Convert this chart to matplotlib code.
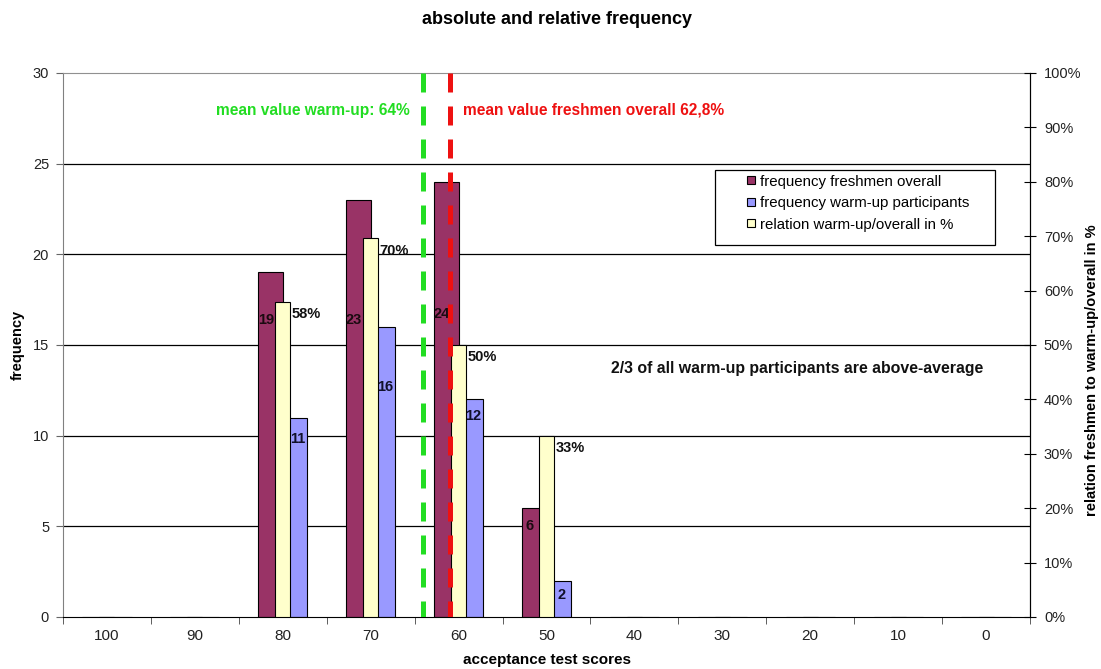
import numpy as np
import matplotlib
matplotlib.use("Agg")
import matplotlib.pyplot as plt
from matplotlib.lines import Line2D
from matplotlib.patches import Rectangle
from matplotlib.ticker import FuncFormatter

plt.rcParams['font.family'] = ['Liberation Sans', 'DejaVu Sans']

# data
scores = ['100', '90', '80', '70', '60', '50', '40', '30', '20', '10', '0']
freshmen = [0, 0, 19, 23, 24, 6, 0, 0, 0, 0, 0]
warmup = [0, 0, 11, 16, 12, 2, 0, 0, 0, 0, 0]
relation = [0, 0, 0.579, 0.696, 0.50, 0.333, 0, 0, 0, 0, 0]
mean_warmup = 64
mean_overall = 62.8

# where the labels sit (layout only)
freshmen_label_y = [0, 0, 16.4, 16.4, 16.7, 5.0, 0, 0, 0, 0, 0]
warmup_label_y = [0, 0, 9.8, 12.7, 11.1, 1.2, 0, 0, 0, 0, 0]
mean_line_x = [3.6, 3.9]   # positions of the dashed lines as drawn in the original

MAROON = '#993366'
BLUE = '#9999ff'
YELLOW = '#ffffcc'
GREEN = '#22dd22'
RED = '#ee1111'

fig = plt.figure(figsize=(11.01, 6.69), dpi=100)
ax = fig.add_axes([63 / 1101, 1 - 617 / 669, 967 / 1101, 544 / 669])
ax2 = ax.twinx()

x = np.arange(len(scores))
w = 0.28
ax.bar(x - w / 2, freshmen, width=w, color=MAROON, edgecolor='black', linewidth=0.8, zorder=2)
ax.bar(x + w / 2, warmup, width=w, color=BLUE, edgecolor='black', linewidth=0.8, zorder=2)
ax2.bar(x, relation, width=0.17, color=YELLOW, edgecolor='black', linewidth=0.8, zorder=2)

ax.set_xlim(-0.5, len(scores) - 0.5)
ax.set_ylim(0, 30)
ax2.set_ylim(0, 1)

# grid
ax.set_axisbelow(True)
for yv in range(5, 30, 5):
    ax.axhline(yv, color='black', linewidth=0.9, zorder=0)

# spines
ax.spines['left'].set_color('#808080')
ax.spines['top'].set_color('#909090')
ax.spines['bottom'].set_color('black')
ax2.spines['right'].set_color('black')
ax2.spines['left'].set_visible(False)
ax2.spines['top'].set_visible(False)
ax2.spines['bottom'].set_visible(False)

# ticks
ax.set_xticks(x)
ax.set_xticklabels(scores)
ax.set_xticks(np.arange(-0.5, len(scores), 1), minor=True)
ax.tick_params(axis='x', which='major', length=0, pad=9, labelsize=11, labelcolor='#222222')
ax.tick_params(axis='x', which='minor', length=5, direction='out', color='#444444')
ax.set_yticks(range(0, 31, 5))
ax.tick_params(axis='y', length=5, direction='out', pad=5, labelsize=10.5, labelcolor='#222222', color='#666666')
ax2.set_yticks(np.arange(0, 1.01, 0.1))
ax2.yaxis.set_major_formatter(FuncFormatter(lambda v, p: f'{v * 100:.0f}%'))
ax2.tick_params(axis='y', length=8, direction='inout', pad=6, labelsize=10.5, labelcolor='#222222')

# value labels
for i in x:
    if freshmen[i]:
        ax2.text(i - 0.19, freshmen_label_y[i] / 30, str(freshmen[i]), ha='center', va='center',
                 fontsize=10.5, fontweight='bold', color='#1a0a10', zorder=3)
    if warmup[i]:
        ax2.text(i + 0.17, warmup_label_y[i] / 30, str(warmup[i]), ha='center', va='center',
                 fontsize=10.5, fontweight='bold', color='#10102a', zorder=3)
    if relation[i]:
        ax2.text(i + 0.1, relation[i] - 0.01, f'{relation[i] * 100:.0f}%', ha='left', va='top',
                 fontsize=10.5, fontweight='bold', color='#111111', zorder=3)

# mean lines
for xm, col in zip(mean_line_x, [GREEN, RED]):
    ax2.plot([xm, xm], [1, 0], color=col, linewidth=3.6, linestyle=(0, (3.8, 2.8)), zorder=4,
             solid_capstyle='butt', dash_capstyle='butt')

ax.text(mean_line_x[0] - 0.15, 27.95, f'mean value warm-up: {mean_warmup}%', ha='right', va='center',
        fontsize=11.2, fontweight='bold', color=GREEN)
ax.text(mean_line_x[1] + 0.15, 27.95, f'mean value freshmen overall {str(mean_overall).replace(".", ",")}%',
        ha='left', va='center', fontsize=11.2, fontweight='bold', color=RED)
ax.text(5.73, 13.73, '2/3 of all warm-up participants are above-average', ha='left', va='center',
        fontsize=11.4, fontweight='bold', color='#111111')

# legend: box drawn by hand, entries from legend()
ax2.add_patch(Rectangle((0.6743, 0.6838), 0.9638 - 0.6743, 0.8217 - 0.6838, transform=ax2.transAxes,
                        facecolor='white', edgecolor='black', linewidth=0.9, zorder=9))
handles = [Line2D([], [], linestyle='none', marker='s', markersize=6, markerfacecolor=c,
                  markeredgecolor='black', markeredgewidth=0.8) for c in [MAROON, BLUE, YELLOW]]
labels = ['frequency freshmen overall', 'frequency warm-up participants', 'relation warm-up/overall in %']
leg = ax2.legend(handles, labels, loc='upper left', bbox_to_anchor=(0.7063, 0.8134), fontsize=10.8,
                 frameon=False, handlelength=0.7, handletextpad=0.23, borderpad=0, borderaxespad=0,
                 labelspacing=0.5)
leg.set_zorder(10)

fig.text(18 / 1101, 1 - 345 / 669, 'frequency', rotation=90, ha='center', va='center',
         fontsize=10.5, fontweight='bold')
fig.text(1092 / 1101, 1 - 370 / 669, 'relation freshmen to warm-up/overall in %', rotation=90,
         ha='center', va='center', fontsize=10.5, fontweight='bold')
fig.text(547 / 1101, 1 - 660 / 669, 'acceptance test scores', ha='center', va='center',
         fontsize=11, fontweight='bold')
fig.text(557 / 1101, 1 - 20 / 669, 'absolute and relative frequency', ha='center', va='center',
         fontsize=13, fontweight='bold')

fig.savefig('out.png', dpi=100)
